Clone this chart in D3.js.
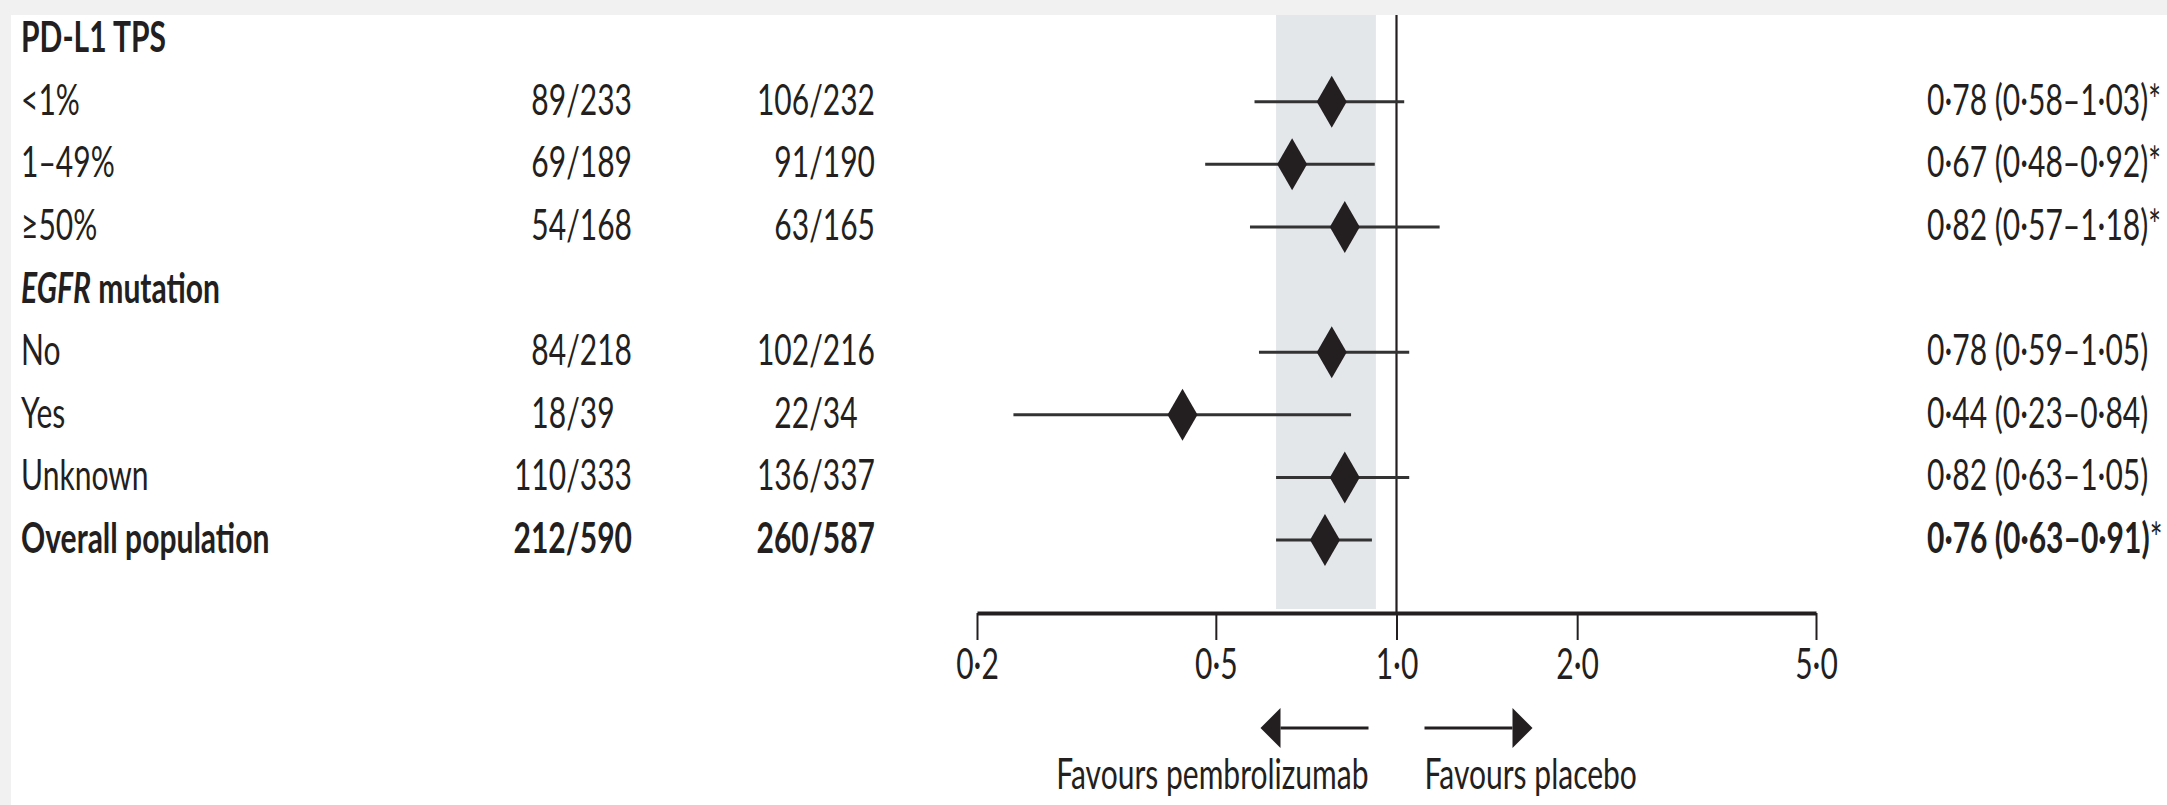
<!DOCTYPE html>
<html>
<head>
<meta charset="utf-8">
<script src="https://cdn.jsdelivr.net/npm/d3@7"></script>
<style>
  html, body { margin: 0; padding: 0; background: #ffffff; }
  svg { display: block; }
</style>
</head>
<body>
<svg id="chart" width="2167" height="805"></svg>
<script>
// ---- Data -------------------------------------------------------------
const sectionTitles = ["PD-L1 TPS", "EGFR mutation"];
const sectionItalicPrefix = ["", "EGFR"];
const subgroups = ["<1%", "1–49%", "≥50%", "No", "Yes", "Unknown", "Overall population"];
const subgroupSection = [0, 0, 0, 1, 1, 1, 2];
const pembroEvents = [89, 69, 54, 84, 18, 110, 212];
const pembroTotal = [233, 189, 168, 218, 39, 333, 590];
const placeboEvents = [106, 91, 63, 102, 22, 136, 260];
const placeboTotal = [232, 190, 165, 216, 34, 337, 587];
const hazardRatio = [0.78, 0.67, 0.82, 0.78, 0.44, 0.82, 0.76];
const ciLower = [0.58, 0.48, 0.57, 0.59, 0.23, 0.63, 0.63];
const ciUpper = [1.03, 0.92, 1.18, 1.05, 0.84, 1.05, 0.91];
const footnoteMark = [true, true, true, false, false, false, true];
const boldRow = [false, false, false, false, false, false, true];
const axisTicks = [0.2, 0.5, 1, 2, 5];
const leftArrowLabel = "Favours pembrolizumab";
const rightArrowLabel = "Favours placebo";

// ---- Layout -----------------------------------------------------------
const W = 2167, H = 805;
const INK = "#231f20";
const FONT = "Lato, 'Open Sans', sans-serif";
const FS = 42;          // font size (px)
const SX = 0.715;       // horizontal condensing of the type
const svg = d3.select("#chart");

const x = d3.scaleLog().domain([0.2, 5]).range([977, 1816]);
const axisY = 613;
const plotTop = 15;
const labelX = 21, col2Right = 632, col3Right = 875, hrX = 1927;

const decimal = (v, p) => d3.format("." + p + "f")(v).replace(".", "·");

// page margins in light grey
svg.append("rect").attr("x", 0).attr("y", 0).attr("width", W).attr("height", H).attr("fill", "#ffffff");
svg.append("rect").attr("x", 0).attr("y", 0).attr("width", W).attr("height", plotTop).attr("fill", "#f1f1f1");
svg.append("rect").attr("x", 0).attr("y", 0).attr("width", 11).attr("height", H).attr("fill", "#f1f1f1");

// condensed text helper
function label(parent, px, py, anchor, weight) {
  return parent.append("g")
    .attr("transform", `translate(${px},${py}) scale(${SX},1)`)
    .append("text")
    .attr("text-anchor", anchor)
    .attr("font-family", FONT)
    .attr("font-size", FS)
    .attr("font-weight", weight)
    .attr("fill", INK);
}

// width of one digit, for lining up the count columns
const probe = label(svg, -500, -500, "start", 400).text("0");
const digitW = probe.node().getComputedTextLength() * SX;
probe.node().parentNode.remove();

// ---- Row assignment ---------------------------------------------------
const rows = [];
let r = 0, prev = -1;
subgroups.forEach((name, i) => {
  const s = subgroupSection[i];
  if (s !== prev) {
    prev = s;
    if (sectionTitles[s]) rows.push({ type: "header", s, row: r++ });
  }
  rows.push({ type: "item", i, row: r++ });
});
const yBase = d3.scaleLinear().domain([0, r - 1]).range([52, 553]);
const markOffset = 13;

// ---- Overall CI band and line of no effect -------------------------------
const overallIdx = subgroups.length - 1;
svg.append("rect")
  .attr("x", x(ciLower[overallIdx]))
  .attr("y", plotTop)
  .attr("width", x(ciUpper[overallIdx]) - x(ciLower[overallIdx]) + 4)
  .attr("height", axisY - 4 - plotTop)
  .attr("fill", "#e4e7ea");

svg.append("line")
  .attr("x1", x(1)).attr("x2", x(1))
  .attr("y1", plotTop).attr("y2", axisY)
  .attr("stroke", INK).attr("stroke-width", 2.2);

// ---- Text columns and markers ----------------------------------------------
rows.forEach(d => {
  const by = yBase(d.row);
  if (d.type === "header") {
    const t = label(svg, labelX, by, "start", 700);
    const pre = sectionItalicPrefix[d.s];
    if (pre) {
      t.append("tspan").attr("font-style", "italic").text(pre);
      t.append("tspan").text(sectionTitles[d.s].slice(pre.length));
    } else {
      t.text(sectionTitles[d.s]);
    }
    return;
  }
  const i = d.i;
  const w = boldRow[i] ? 700 : 400;
  label(svg, labelX, by, "start", w).text(subgroups[i]);

  const pad2 = (3 - String(pembroTotal[i]).length) * digitW;
  label(svg, col2Right - pad2, by, "end", w).text(`${pembroEvents[i]}/${pembroTotal[i]}`);
  const pad3 = (3 - String(placeboTotal[i]).length) * digitW;
  label(svg, col3Right - pad3, by, "end", w).text(`${placeboEvents[i]}/${placeboTotal[i]}`);

  const hr = label(svg, hrX, by, "start", w);
  hr.append("tspan").text(`${decimal(hazardRatio[i], 2)} (${decimal(ciLower[i], 2)}–${decimal(ciUpper[i], 2)})`);
  if (footnoteMark[i]) hr.append("tspan").attr("font-weight", 400).text("*");

  const cy = by - markOffset;
  svg.append("line")
    .attr("x1", x(ciLower[i])).attr("x2", x(ciUpper[i]))
    .attr("y1", cy).attr("y2", cy)
    .attr("stroke", "#333333").attr("stroke-width", 3);

  const cx = x(hazardRatio[i]);
  const hw = 15, hh = 26;
  svg.append("path")
    .attr("d", `M${cx},${cy - hh}L${cx + hw},${cy}L${cx},${cy + hh}L${cx - hw},${cy}Z`)
    .attr("fill", INK);
});

// ---- Hazard ratio axis -------------------------------------------------------
const axis = d3.axisBottom(x)
  .tickValues(axisTicks)
  .tickSize(27)
  .tickSizeOuter(0)
  .tickFormat(v => decimal(v, 1));

const gAxis = svg.append("g").attr("transform", `translate(0,${axisY})`).call(axis);
gAxis.select(".domain").attr("stroke", INK).attr("stroke-width", 4);
gAxis.selectAll(".tick line").attr("stroke", INK).attr("stroke-width", 2);
gAxis.selectAll(".tick text")
  .attr("y", 66).attr("dy", 0)
  .attr("transform", `scale(${SX},1)`)
  .attr("font-family", FONT).attr("font-size", FS).attr("fill", INK);

// ---- Direction arrows ---------------------------------------------------------
const arrowY = 728, gap = 28, shaft = 88, head = 20, headHalf = 20;
const x1 = x(1);
// left
svg.append("line")
  .attr("x1", x1 - gap).attr("x2", x1 - gap - shaft)
  .attr("y1", arrowY).attr("y2", arrowY)
  .attr("stroke", INK).attr("stroke-width", 3);
svg.append("path")
  .attr("d", `M${x1 - gap - shaft - head},${arrowY}L${x1 - gap - shaft},${arrowY - headHalf}L${x1 - gap - shaft},${arrowY + headHalf}Z`)
  .attr("fill", INK);
// right
svg.append("line")
  .attr("x1", x1 + gap).attr("x2", x1 + gap + shaft)
  .attr("y1", arrowY).attr("y2", arrowY)
  .attr("stroke", INK).attr("stroke-width", 3);
svg.append("path")
  .attr("d", `M${x1 + gap + shaft + head},${arrowY}L${x1 + gap + shaft},${arrowY - headHalf}L${x1 + gap + shaft},${arrowY + headHalf}Z`)
  .attr("fill", INK);

label(svg, x1 - gap, 789, "end", 400).text(leftArrowLabel);
label(svg, x1 + gap, 789, "start", 400).text(rightArrowLabel);
</script>
</body>
</html>
